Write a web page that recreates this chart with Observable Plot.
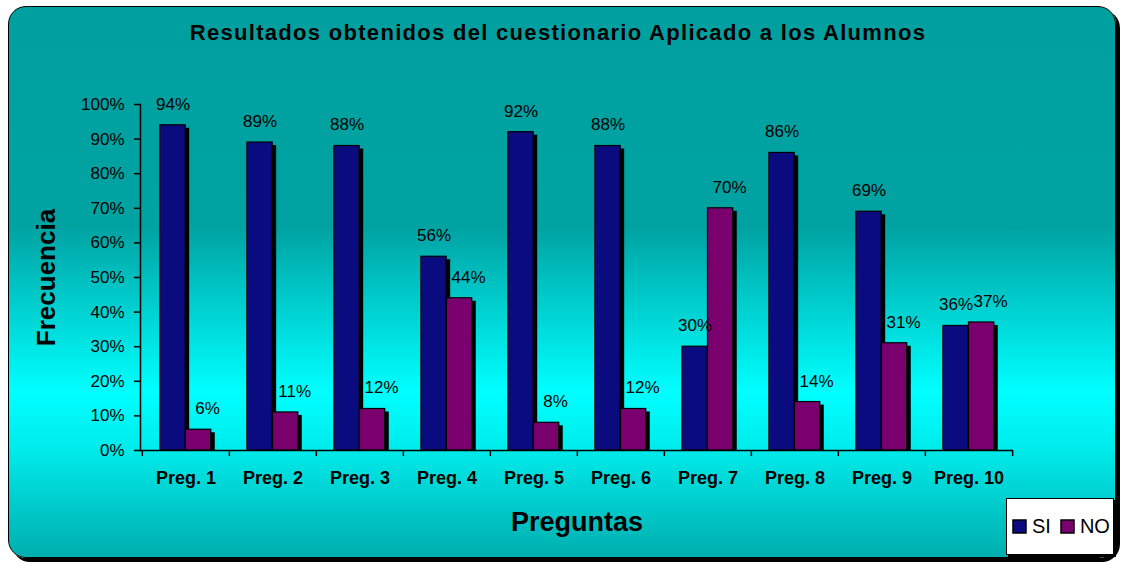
<!DOCTYPE html>
<html>
<head>
<meta charset="utf-8">
<script src="https://cdn.jsdelivr.net/npm/d3@7"></script>
<script src="https://cdn.jsdelivr.net/npm/@observablehq/plot@0.6"></script>
<style>
  html, body { margin: 0; padding: 0; background: #fff; }
  #wrap { position: relative; width: 1124px; height: 563px; overflow: hidden; font-family: "Liberation Sans", Arial, sans-serif; }
  #panel {
    position: absolute; left: 8px; top: 6px; width: 1108px; height: 552px; box-sizing: border-box;
    border: 1.5px solid #000; border-radius: 18px; box-shadow: 4px 4px 0 #000;
    background: linear-gradient(to bottom, #00A0A0 0%, #00A2A2 40%, #00FFFF 70%, #00ECEC 80%, #00AEAE 100%);
  }
  #title { position: absolute; left: 0; width: 1116px; top: 20px; text-align: center; font-weight: bold; font-size: 22px; letter-spacing: 1.3px; color: #000; white-space: nowrap; }
  #chart { position: absolute; left: 0; top: 0; }
  #legend {
    position: absolute; left: 1006px; top: 498px; width: 108px; height: 57px; box-sizing: border-box;
    background: #fff; border: 1px solid #000; box-shadow: 2px 2px 0 #000; display: flex; align-items: center; padding-left: 6px; overflow: hidden;
  }
  #legend > div { display: flex !important; flex-wrap: nowrap !important; white-space: nowrap; margin: 0 !important; min-height: 0 !important; align-items: center; }
  #legend > div > span { margin-right: 10px !important; font-size: 20px; display: inline-flex; align-items: center; }
  #legend svg { margin-right: 6px !important; }
  #legend svg rect { stroke: #000; stroke-width: 1.5px; }
</style>
</head>
<body>
<div id="wrap">
  <div id="panel"></div>
  <div id="title">Resultados obtenidos del cuestionario Aplicado a los Alumnos</div>
  <div id="chart"></div>
  <div id="legend"></div>
</div>
<script>
const categories = ["Preg. 1", "Preg. 2", "Preg. 3", "Preg. 4", "Preg. 5", "Preg. 6", "Preg. 7", "Preg. 8", "Preg. 9", "Preg. 10"];
const siValues = [0.94, 0.89, 0.88, 0.56, 0.92, 0.88, 0.30, 0.86, 0.69, 0.36];
const noValues = [0.06, 0.11, 0.12, 0.44, 0.08, 0.12, 0.70, 0.14, 0.31, 0.37];
const yTicks = [0, 0.1, 0.2, 0.3, 0.4, 0.5, 0.6, 0.7, 0.8, 0.9, 1.0];
const seriesNames = ["SI", "NO"];
const seriesColors = ["#0B0B80", "#7A006E"];

const rows = categories.map((c, i) => ({cat: c, si: siValues[i], no: noValues[i]}));
const pct = d3.format(".0%");

const W = 1124, H = 563, ML = 140, MR = 111, MT = 104, MB = 113;
const bw = (W - ML - MR) / categories.length;
const gap = bw * 0.205, barW = bw * 0.293;
const siIn = {insetLeft: gap, insetRight: bw - gap - barW};
const noIn = {insetLeft: gap + barW, insetRight: bw - gap - 2 * barW};
const siCenter = gap + barW / 2 - bw / 2;
const noCenter = gap + barW * 1.5 - bw / 2;

const chart = Plot.plot({
  width: W, height: H,
  marginLeft: ML, marginRight: MR, marginTop: MT, marginBottom: MB,
  style: {background: "transparent", fontFamily: "Liberation Sans, Arial, sans-serif", fontSize: "17px", color: "#000", overflow: "visible"},
  x: {domain: categories, padding: 0, label: null},
  y: {domain: [0, 1], label: null},
  marks: [
    Plot.barY(rows, {x: "cat", y: "si", fill: "#000", ...siIn, dx: 4, dy: 3, insetBottom: 3}),
    Plot.barY(rows, {x: "cat", y: "no", fill: "#000", ...noIn, dx: 4, dy: 3, insetBottom: 3}),
    Plot.barY(rows, {x: "cat", y: "si", fill: seriesColors[0], stroke: "#000", strokeWidth: 1.2, ...siIn}),
    Plot.barY(rows, {x: "cat", y: "no", fill: seriesColors[1], stroke: "#000", strokeWidth: 1.2, ...noIn}),
    Plot.text(rows, {x: "cat", y: "si", text: d => pct(d.si), dx: siCenter, dy: -21, fontSize: 17}),
    Plot.text(rows, {x: "cat", y: "no", text: d => pct(d.no), dx: noCenter + 9, dy: -21, fontSize: 17}),
    Plot.axisY({ticks: yTicks, tickFormat: pct, tickSize: 6, tickPadding: 10, fontSize: 17, strokeWidth: 1.5,
      label: "Frecuencia", labelAnchor: "center", labelArrow: "none", labelOffset: 104}),
    Plot.axisX({tickSize: 0, tickPadding: 21, fontSize: 18, fontWeight: "bold", label: "Preguntas", labelAnchor: "center", labelArrow: "none", labelOffset: 80}),
    Plot.axisX({tickSize: 6, tickFormat: () => "", dx: -bw / 2, strokeWidth: 1.5, label: null}),
    Plot.axisX({ticks: [categories[categories.length - 1]], tickSize: 6, tickFormat: () => "", dx: bw / 2, strokeWidth: 1.5, label: null}),
    Plot.ruleY([0], {stroke: "#000", strokeWidth: 1.5}),
    Plot.frame({anchor: "left", stroke: "#000", strokeWidth: 1.5})
  ]
});
chart.querySelectorAll("g[aria-label='y-axis label'] text").forEach(t => {
  t.setAttribute("font-weight", "bold");
  t.setAttribute("font-size", "26");
});
chart.querySelectorAll("g[aria-label='x-axis label'] text").forEach(t => {
  t.setAttribute("font-weight", "bold");
  t.setAttribute("font-size", "27");
});
document.getElementById("chart").appendChild(chart);

const legend = Plot.legend({color: {domain: seriesNames, range: seriesColors}, legend: "swatches", swatchSize: 13,
  style: {fontFamily: "Liberation Sans, Arial, sans-serif", fontSize: "20px", color: "#000", background: "transparent"}});
document.getElementById("legend").appendChild(legend);
</script>
</body>
</html>
